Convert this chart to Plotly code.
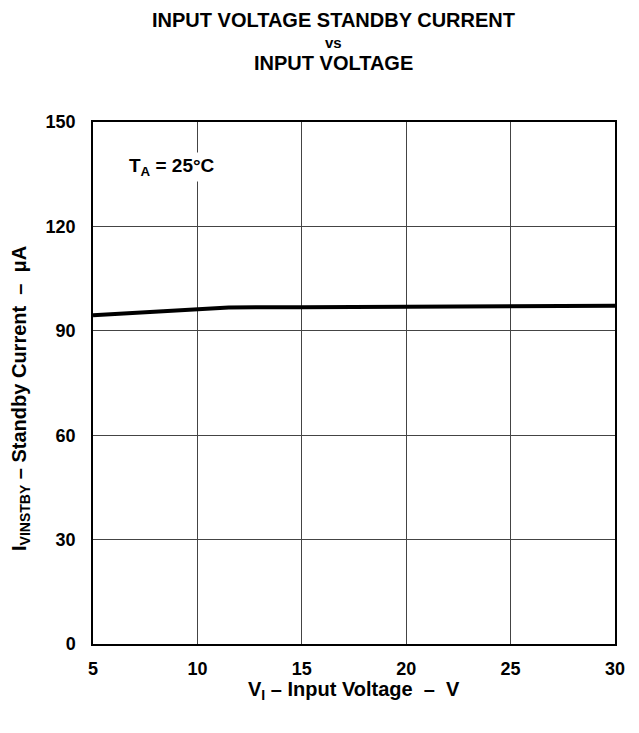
import plotly.graph_objects as go

# Data
input_voltage = [5, 8, 11.5, 15, 20, 25, 30]
standby_current = [94.5, 95.5, 96.7, 96.8, 96.9, 97.0, 97.2]

x_ticks = [5, 10, 15, 20, 25, 30]
y_ticks = [0, 30, 60, 90, 120, 150]

FONT = "Liberation Sans, Arial, sans-serif"

# plot area in page pixels (page has an 8px body margin)
PX_L, PX_R, PX_T, PX_B = 93, 615, 122, 644
FIG_W, FIG_H = 620, 705


def px_to_paper(px, py):
    return ((px - PX_L) / (PX_R - PX_L), (PX_B - py) / (PX_B - PX_T))


fig = go.Figure()

fig.add_trace(go.Scatter(
    x=input_voltage, y=standby_current, mode='lines',
    line=dict(color='black', width=4), showlegend=False
))

# TA label with white box hiding the grid line behind it
fig.add_annotation(
    x=8.8, y=137.0, xref='x', yref='y',
    text="<b>T<sub>A</sub> = 25°C</b>", showarrow=False,
    font=dict(family=FONT, size=19, color='black'),
    bgcolor='white', borderpad=2
)

# Title (three lines, middle one smaller)
title_lines = [("<b>INPUT VOLTAGE STANDBY CURRENT</b>", 20, 20),
               ("<b>vs</b>", 15, 42),
               ("<b>INPUT VOLTAGE</b>", 20, 63)]
for text, size, ypx in title_lines:
    xp, yp = px_to_paper(333, ypx)
    fig.add_annotation(
        x=xp, y=yp, xref='paper', yref='paper', text=text, showarrow=False,
        font=dict(family=FONT, size=size, color='black'),
        xanchor='center', yanchor='middle'
    )

# Axis titles
xp, yp = px_to_paper(354, 690)
fig.add_annotation(
    x=xp, y=yp, xref='paper', yref='paper',
    text="<b>V<sub>I</sub> – Input Voltage  –  V</b>", showarrow=False,
    font=dict(family=FONT, size=20, color='black'),
    xanchor='center', yanchor='middle'
)
xp, yp = px_to_paper(20, 399)
fig.add_annotation(
    x=xp, y=yp, xref='paper', yref='paper', textangle=-90,
    text="<b>I<sub>VINSTBY</sub> – Standby Current  –  μA</b>", showarrow=False,
    font=dict(family=FONT, size=20, color='black'),
    xanchor='center', yanchor='middle'
)

fig.update_xaxes(
    range=[5, 30], tickvals=x_ticks, ticktext=[f"<b>{v}</b>" for v in x_ticks],
    showgrid=True, gridcolor='#444', gridwidth=1, zeroline=False,
    showline=True, linecolor='black', linewidth=1.5, mirror=True,
    ticks='', ticklabelstandoff=8, automargin=False,
    tickfont=dict(family=FONT, size=18, color='black')
)
fig.update_yaxes(
    range=[0, 150], tickvals=y_ticks, ticktext=[f"<b>{v}</b>" for v in y_ticks],
    showgrid=True, gridcolor='#444', gridwidth=1, zeroline=False,
    showline=True, linecolor='black', linewidth=1.5, mirror=True,
    ticks='', ticklabelstandoff=12, automargin=False,
    tickfont=dict(family=FONT, size=18, color='black')
)

fig.update_layout(
    width=FIG_W, height=FIG_H,
    margin=dict(l=PX_L - 8, r=FIG_W + 8 - PX_R, t=PX_T - 8, b=FIG_H + 8 - PX_B),
    plot_bgcolor='white', paper_bgcolor='white',
    showlegend=False
)

fig.write_html("out.html")
